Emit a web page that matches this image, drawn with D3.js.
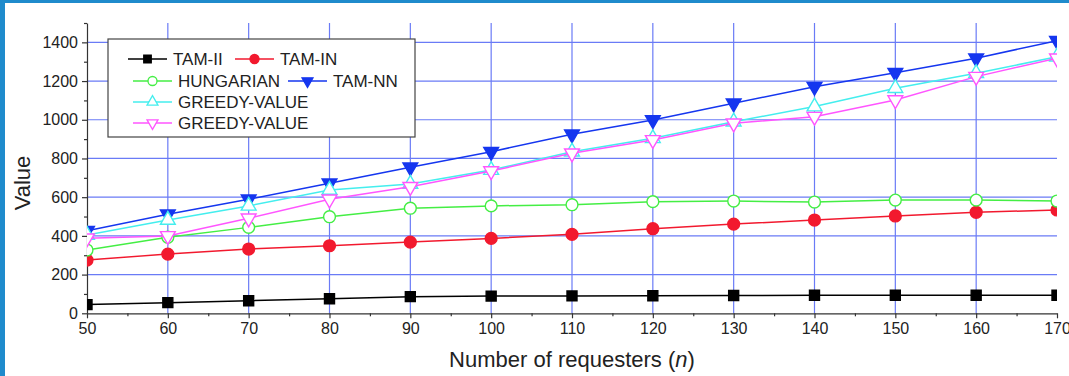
<html><head>
<script src="https://d3js.org/d3.v7.min.js" charset="utf-8"></script>
<style>
  body { margin: 0; background: white; }
  text { font-family: Arial, "Liberation Sans", Helvetica, sans-serif; }
</style>
</head>
<body>
<div id="chart"></div>
<script>
// data
var requesters = [50, 60, 70, 80, 90, 100, 110, 120, 130, 140, 150, 160, 170];
var seriesNames = ["TAM-II", "TAM-IN", "HUNGARIAN", "TAM-NN", "GREEDY-VALUE", "GREEDY-VALUE"];
var tamII      = [45, 55, 65, 75, 86, 89, 90, 91, 92, 93, 93, 93, 93];
var tamIN      = [275, 306, 332, 349, 368, 387, 408, 437, 461, 482, 503, 522, 534];
var hungarian  = [327, 393, 444, 499, 543, 555, 561, 577, 580, 575, 585, 585, 580];
var tamNN      = [427, 512, 589, 672, 755, 835, 925, 999, 1085, 1171, 1243, 1318, 1409];
var greedyUp   = [405, 482, 555, 637, 668, 740, 835, 904, 990, 1068, 1163, 1240, 1326];
var greedyDown = [388, 400, 491, 589, 654, 735, 827, 896, 982, 1016, 1102, 1223, 1318];
var xTicks = [50, 60, 70, 80, 90, 100, 110, 120, 130, 140, 150, 160, 170];
var xMinor = [55, 65, 75, 85, 95, 105, 115, 125, 135, 145, 155, 165];
var yTicks = [0, 200, 400, 600, 800, 1000, 1200, 1400];
var yMinor = [100, 300, 500, 700, 900, 1100, 1300, 1500];

var W = 1069, H = 376;
var margin = {top: 23, right: 12, bottom: 62.7, left: 87};

var styles = [
  {values: tamII,      color: "#000000", shape: "square",   fill: "#000000"},
  {values: tamIN,      color: "#f2192e", shape: "circle",   fill: "#f2192e"},
  {values: hungarian,  color: "#44ee44", shape: "circle",   fill: "#ffffff"},
  {values: tamNN,      color: "#1536ef", shape: "triDown",  fill: "#1536ef"},
  {values: greedyUp,   color: "#44eeee", shape: "triUp",    fill: "#ffffff"},
  {values: greedyDown, color: "#ff55ff", shape: "triDown",  fill: "#ffffff"}
];

var svg = d3.select("#chart").append("svg")
  .attr("width", W).attr("height", H);

// page frame strips
svg.append("rect").attr("x", 0).attr("y", 0).attr("width", W).attr("height", 3).style("fill", "#1f8bcc");
svg.append("rect").attr("x", 0).attr("y", 0).attr("width", 5).attr("height", H).style("fill", "#1f8bcc");

var xScale = d3.scaleLinear().domain([50, 170]).range([margin.left, W - margin.right]);
var yScale = d3.scaleLinear().domain([0, 1500]).range([H - margin.bottom, margin.top]);

// grid
var gridColor = "#6a7bf6";
svg.append("g").selectAll("line").data(yTicks.slice(1)).join("line")
  .attr("x1", xScale(50)).attr("x2", xScale(170))
  .attr("y1", d => yScale(d)).attr("y2", d => yScale(d))
  .style("stroke", gridColor).style("stroke-width", 1.2);
svg.append("g").selectAll("line").data(xTicks.slice(1, -1)).join("line")
  .attr("x1", d => xScale(d)).attr("x2", d => xScale(d))
  .attr("y1", yScale(0)).attr("y2", yScale(1500))
  .style("stroke", gridColor).style("stroke-width", 1.2);

// axes
svg.append("g").attr("transform", "translate(0," + yScale(0) + ")")
  .call(d3.axisBottom(xScale).tickValues(xTicks).tickSize(5).tickSizeOuter(0).tickPadding(4).tickFormat(d3.format("d")));
svg.append("g").attr("transform", "translate(0," + yScale(0) + ")")
  .call(d3.axisBottom(xScale).tickValues(xMinor).tickSize(3).tickSizeOuter(0).tickFormat(""))
  .select(".domain").remove();
svg.append("g").attr("transform", "translate(" + xScale(50) + ",0)")
  .call(d3.axisLeft(yScale).tickValues(yTicks).tickSize(5).tickSizeOuter(0).tickPadding(4).tickFormat(d3.format("d")));
svg.append("g").attr("transform", "translate(" + xScale(50) + ",0)")
  .call(d3.axisLeft(yScale).tickValues(yMinor).tickSize(3).tickSizeOuter(0).tickFormat(""))
  .select(".domain").remove();

svg.selectAll(".tick text").style("font-size", "16px").style("fill", "#222")
  .style("font-family", "Arial, 'Liberation Sans', sans-serif");
svg.selectAll(".domain, .tick line").style("stroke", "#333").style("stroke-width", 1.2);

// titles
svg.append("text").attr("transform", "translate(30,183) rotate(-90)")
  .attr("text-anchor", "middle").style("font-size", "22px").style("fill", "#222").text("Value");
var xt = svg.append("text").attr("x", 572).attr("y", 367)
  .attr("text-anchor", "middle").style("font-size", "22px").style("fill", "#222");
xt.append("tspan").text("Number of requesters (");
xt.append("tspan").style("font-style", "italic").text("n");
xt.append("tspan").text(")");

// clip
svg.append("clipPath").attr("id", "plotclip").append("rect")
  .attr("x", xScale(50)).attr("y", 0).attr("width", xScale(170) - xScale(50)).attr("height", yScale(0));

function symbolPath(shape, size) {
  var type = shape == "square" ? d3.symbolSquare : shape == "circle" ? d3.symbolCircle : d3.symbolTriangle;
  return d3.symbol().type(type).size(size)();
}
function markerSize(shape, big) {
  if (shape == "square") return big ? 100 : 56;
  if (shape == "circle") return big ? 110 : 64;
  return big ? 95 : 52;
}

var plot = svg.append("g").attr("clip-path", "url(#plotclip)");
var line = d3.line().x((d, i) => xScale(requesters[i])).y(d => yScale(d));

styles.forEach(function(s) {
  var g = plot.append("g");
  g.append("path").datum(s.values).attr("d", line)
    .style("fill", "none").style("stroke", s.color).style("stroke-width", 1.5);
  g.selectAll("path.m").data(s.values).join("path").attr("class", "m")
    .attr("d", symbolPath(s.shape, markerSize(s.shape, true)))
    .attr("transform", (d, i) => "translate(" + xScale(requesters[i]) + "," + yScale(d) + ")" + (s.shape == "triDown" ? " rotate(180)" : ""))
    .style("fill", s.fill).style("stroke", s.color).style("stroke-width", 1.4);
});

// legend
var legend = svg.append("g");
legend.append("rect").attr("x", 108).attr("y", 39).attr("width", 307).attr("height", 98)
  .style("fill", "white").style("stroke", "#444").style("stroke-width", 1.2);
var legendPos = [
  {x: 128, y: 59}, {x: 235, y: 59},
  {x: 133, y: 81}, {x: 288, y: 81},
  {x: 133, y: 102}, {x: 133, y: 123}
];
styles.forEach(function(s, i) {
  var p = legendPos[i];
  var g = legend.append("g").attr("transform", "translate(" + p.x + "," + p.y + ")");
  g.append("line").attr("x1", 0).attr("x2", 39).attr("y1", 0).attr("y2", 0)
    .style("stroke", s.color).style("stroke-width", 1.5);
  g.append("path").attr("d", symbolPath(s.shape, markerSize(s.shape, false)))
    .attr("transform", "translate(19.5,0)" + (s.shape == "triDown" ? " rotate(180)" : ""))
    .style("fill", s.fill).style("stroke", s.color).style("stroke-width", 1.3);
  g.append("text").attr("x", 45).attr("y", 6).style("font-size", "17px").style("fill", "#222")
    .text(seriesNames[i]);
});
</script>
</body></html>
